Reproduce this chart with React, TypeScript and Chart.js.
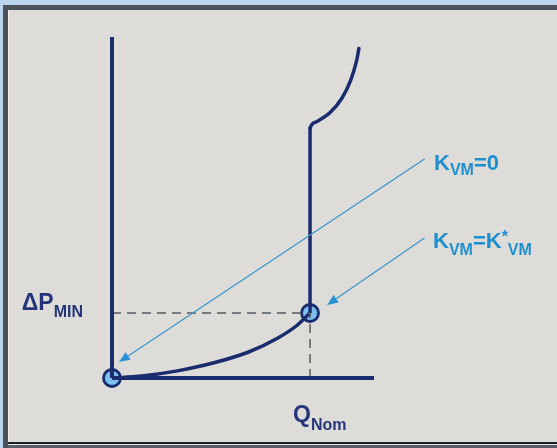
import React, { useEffect, useRef } from "react";
import { Chart, registerables } from "chart.js";

Chart.register(...registerables);

// Flow (Q, in units of nominal flow) and differential pressure (ΔP, in units of ΔP_MIN)
const axisQMax = 1.323;
const axisDPMax = 5.246;

// Rising branch from the origin up to the operating point
const lowerQ = [0, 0.15, 0.33, 0.51, 0.69, 0.84, 0.93, 1];
const lowerDP = [0, 0.03, 0.11, 0.23, 0.4, 0.62, 0.8, 1];

// Vertical limiting branch at nominal flow
const stemQ = [1, 1];
const stemDP = [1, 3.85];

// Upper branch beyond the limit
const upperQ = [1, 1.012, 1.03, 1.1, 1.16, 1.205, 1.235, 1.247];
const upperDP = [3.85, 3.91, 3.94, 4.08, 4.3, 4.58, 4.88, 5.07];

// Marked points: origin (K_VM = 0) and nominal point (K_VM = K*_VM)
const markerQ = [0, 1];
const markerDP = [0, 1];

// Reference values and their labels
const qNom = 1;
const dpMin = 1;
const pressureTick = ["ΔP", "MIN"];
const flowTick = ["Q", "Nom"];
const kZeroLabel = ["K", "VM", "=0"];
const kStarLabel = ["K", "VM", "=K", "*", "VM"];

const NAVY = "#1a2b6e";
const LABEL_NAVY = "#26357a";
const CYAN = "#1f8fd0";
const ARROW = "#3a97cc";
const FONT = '"Liberation Sans", Arial, Helvetica, sans-serif';

const pts = (xs: number[], ys: number[]) => xs.map((x, i) => ({ x, y: ys[i] }));

type Run = { text: string; size: number; dy: number };

function drawRuns(ctx: CanvasRenderingContext2D, x: number, y: number, runs: Run[], color: string, align: "left" | "right" | "center" = "left") {
  ctx.save();
  ctx.fillStyle = color;
  ctx.textBaseline = "alphabetic";
  ctx.textAlign = "left";
  const widths = runs.map((r) => {
    ctx.font = `bold ${r.size}px ${FONT}`;
    return ctx.measureText(r.text).width;
  });
  const total = widths.reduce((a, b) => a + b, 0);
  let cx = align === "left" ? x : align === "right" ? x - total : x - total / 2;
  runs.forEach((r, i) => {
    ctx.font = `bold ${r.size}px ${FONT}`;
    ctx.fillText(r.text, cx, y + r.dy);
    cx += widths[i];
  });
  ctx.restore();
}

function drawArrow(ctx: CanvasRenderingContext2D, x0: number, y0: number, x1: number, y1: number) {
  const ang = Math.atan2(y1 - y0, x1 - x0);
  const len = 11;
  const half = 4.5;
  const bx = x1 - Math.cos(ang) * len;
  const by = y1 - Math.sin(ang) * len;
  ctx.save();
  ctx.strokeStyle = ARROW;
  ctx.lineWidth = 1.3;
  ctx.beginPath();
  ctx.moveTo(x0, y0);
  ctx.lineTo(bx, by);
  ctx.stroke();
  ctx.fillStyle = "#2a92d6";
  ctx.beginPath();
  ctx.moveTo(x1, y1);
  ctx.lineTo(bx - Math.sin(ang) * half, by + Math.cos(ang) * half);
  ctx.lineTo(bx + Math.sin(ang) * half, by - Math.cos(ang) * half);
  ctx.closePath();
  ctx.fill();
  ctx.restore();
}

const annotations = {
  id: "annotations",
  afterDatasetsDraw(chart: any) {
    const { ctx, scales } = chart;
    const xs = scales.x;
    const ys = scales.y;
    const px = (q: number) => xs.getPixelForValue(q);
    const py = (p: number) => ys.getPixelForValue(p);

    // Axis reference labels
    drawRuns(ctx, px(0) - 29, py(dpMin) - 3, [
      { text: pressureTick[0], size: 23, dy: 0 },
      { text: pressureTick[1], size: 16, dy: 7 },
    ], LABEL_NAVY, "right");
    drawRuns(ctx, px(qNom) - 17, py(0) + 44, [
      { text: flowTick[0], size: 23, dy: 0 },
      { text: flowTick[1], size: 16, dy: 8 },
    ], LABEL_NAVY, "left");

    // Pointer arrows
    drawArrow(ctx, px(1.578), py(3.37), px(0.035), py(0.246));
    drawArrow(ctx, px(1.578), py(2.154), px(1.086), py(1.123));

    // Curve labels
    drawRuns(ctx, px(1.626), py(3.2), [
      { text: kZeroLabel[0], size: 22, dy: 0 },
      { text: kZeroLabel[1], size: 16, dy: 5 },
      { text: kZeroLabel[2], size: 22, dy: 0 },
    ], CYAN);
    drawRuns(ctx, px(1.621), py(2.0), [
      { text: kStarLabel[0], size: 22, dy: 0 },
      { text: kStarLabel[1], size: 16, dy: 7 },
      { text: kStarLabel[2], size: 22, dy: 0 },
      { text: kStarLabel[3], size: 16, dy: -6 },
      { text: kStarLabel[4], size: 16, dy: 7 },
    ], CYAN);
  },
};

export default function App() {
  const canvasRef = useRef<HTMLCanvasElement | null>(null);

  useEffect(() => {
    const canvas = canvasRef.current;
    if (!canvas) return;
    const lineBase = { showLine: true, pointRadius: 0, fill: false, clip: false as any };
    const chart = new Chart(canvas, {
      type: "line",
      data: {
        datasets: [
          { ...lineBase, data: pts([0, 0], [0, axisDPMax]), borderColor: NAVY, borderWidth: 4, borderCapStyle: "butt" },
          { ...lineBase, data: pts([0, axisQMax], [0, 0]), borderColor: NAVY, borderWidth: 4, borderCapStyle: "butt" },
          { ...lineBase, data: pts([0, qNom], [dpMin, dpMin]), borderColor: "#555a60", borderWidth: 1.5, borderDash: [9, 6] },
          { ...lineBase, data: pts([qNom, qNom], [0, dpMin]), borderColor: "#555a60", borderWidth: 1.5, borderDash: [9, 6] },
          { ...lineBase, data: pts(lowerQ, lowerDP), borderColor: NAVY, borderWidth: 3.5, cubicInterpolationMode: "monotone" },
          { ...lineBase, data: pts(stemQ, stemDP), borderColor: NAVY, borderWidth: 3.5 },
          { ...lineBase, data: pts(upperQ, upperDP), borderColor: NAVY, borderWidth: 3.5, cubicInterpolationMode: "monotone", borderCapStyle: "round", borderJoinStyle: "round" },
          {
            ...lineBase,
            showLine: false,
            data: pts(markerQ, markerDP),
            pointRadius: 8.5,
            pointBackgroundColor: "#7cc0ee",
            pointBorderColor: NAVY,
            pointBorderWidth: 2.8,
          },
        ],
      },
      options: {
        responsive: false,
        animation: false,
        events: [],
        layout: { padding: { left: 112, right: 183, top: 37, bottom: 70 } },
        scales: {
          x: { type: "linear", min: 0, max: axisQMax, display: false },
          y: { type: "linear", min: 0, max: axisDPMax, display: false },
        },
        plugins: { legend: { display: false }, tooltip: { enabled: false } },
      },
      plugins: [annotations],
    });
    return () => chart.destroy();
  }, []);

  return (
    <div style={{ position: "fixed", left: 0, top: 0, width: 557, height: 448, background: "#b9d5ee", overflow: "hidden" }}>
      <div
        style={{
          position: "absolute",
          left: 3,
          top: 5,
          width: 600,
          height: 443,
          boxSizing: "border-box",
          borderLeft: "5px solid #4b5259",
          borderTop: "5px solid #4b5259",
          background: "#dddcd8",
        }}
      >
        <div style={{ position: "absolute", left: 0, top: 0, width: 1, height: "100%", background: "#f1f1ef" }} />
      </div>
      <div style={{ position: "absolute", left: 8, top: 442, width: 549, height: 2, background: "#1e1f22" }} />
      <div style={{ position: "absolute", left: 8, top: 444, width: 549, height: 1, background: "#e6e6e4" }} />
      <div style={{ position: "absolute", left: 8, top: 445, width: 549, height: 3, background: "#5a5f65" }} />
      <canvas ref={canvasRef} width={557} height={448} style={{ position: "absolute", left: 0, top: 0 }} />
    </div>
  );
}
